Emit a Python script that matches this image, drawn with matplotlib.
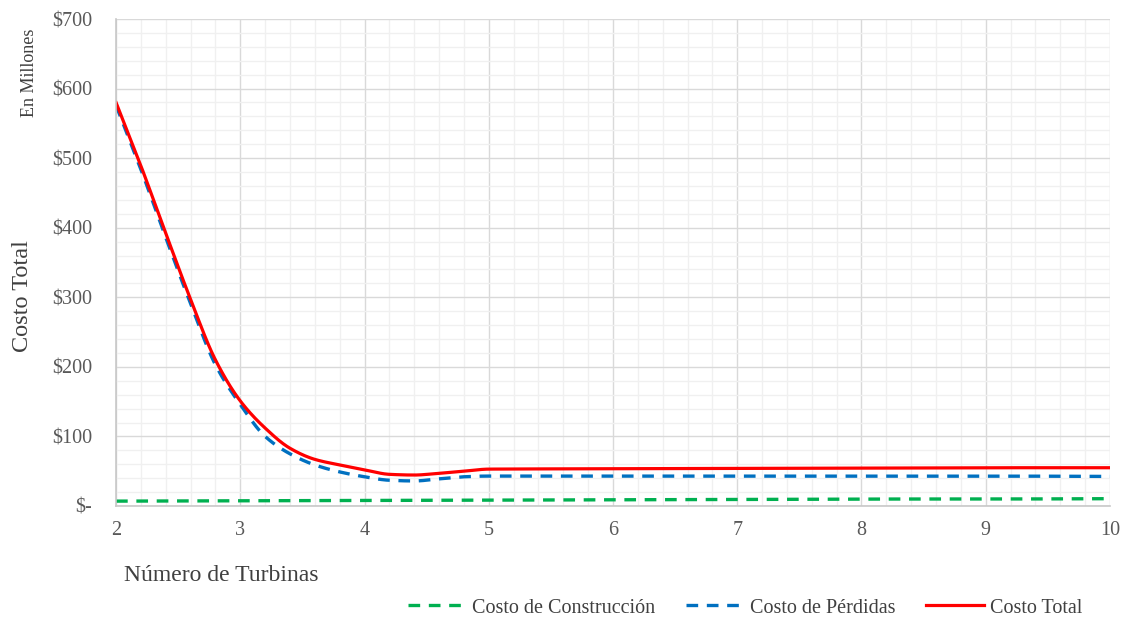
import numpy as np
import matplotlib.pyplot as plt
from matplotlib.ticker import MultipleLocator, FuncFormatter

plt.rcParams['font.family'] = ['Liberation Serif', 'DejaVu Serif']

# valores (millones)
x_fine = [2.0, 2.2, 2.4, 2.6, 2.8, 3.0, 3.2, 3.4, 3.6, 3.8, 4.0, 4.2, 4.4, 4.6, 4.8, 5.0,
          6, 7, 8, 9, 10]
costo_total = [580, 489, 392, 297, 210, 151, 112, 83, 67, 59, 52, 45.5, 44.5, 47, 50, 53,
               53.5, 54, 54.5, 55, 55]
costo_perdidas = [576, 484, 386, 291, 203, 146, 100, 75, 59, 49, 42, 37, 36, 39, 42, 43,
                  43, 43, 43, 43, 42.5]
x_int = [2, 3, 4, 5, 6, 7, 8, 9, 10]
costo_construccion = [7, 7.5, 8, 8.5, 9, 9.5, 10, 10, 10.5]


def smooth(x, y, n=25):
    # linea suavizada (hermite cubica tipo pchip)
    x = np.asarray(x, float)
    y = np.asarray(y, float)
    h = np.diff(x)
    d = np.diff(y) / h
    m = np.zeros_like(y)
    for k in range(1, len(x) - 1):
        if d[k - 1] * d[k] > 0:
            w1 = 2 * h[k] + h[k - 1]
            w2 = h[k] + 2 * h[k - 1]
            m[k] = (w1 + w2) / (w1 / d[k - 1] + w2 / d[k])
    m[0] = d[0]
    m[-1] = d[-1]
    xs, ys = [], []
    t = np.linspace(0, 1, n, endpoint=False)
    for i in range(len(x) - 1):
        hi = h[i]
        h00 = 2 * t**3 - 3 * t**2 + 1
        h10 = t**3 - 2 * t**2 + t
        h01 = -2 * t**3 + 3 * t**2
        h11 = t**3 - t**2
        xs.extend(x[i] + t * hi)
        ys.extend(h00 * y[i] + h10 * hi * m[i] + h01 * y[i + 1] + h11 * hi * m[i + 1])
    xs.append(x[-1])
    ys.append(y[-1])
    return np.array(xs), np.array(ys)


fig = plt.figure(figsize=(11.31, 6.21), dpi=100)
ax = fig.add_axes([0.1026, 0.1852, 0.8788, 0.7842])

sx, sy = smooth(x_int, costo_construccion)
ax.plot(sx, sy, color='#00b050', lw=2.4, dashes=(3.5, 2.6), label='Costo de Construcción')
sx, sy = smooth(x_fine, costo_perdidas)
ax.plot(sx, sy, color='#0070c0', lw=2.4, dashes=(3.5, 2.6), label='Costo de Pérdidas')
sx, sy = smooth(x_fine, costo_total)
ax.plot(sx, sy, color='#ff0000', lw=2.3, label='Costo Total')

ax.set_xlim(2, 10)
ax.set_ylim(0, 700)
ax.xaxis.set_major_locator(MultipleLocator(1))
ax.xaxis.set_minor_locator(MultipleLocator(0.2))
ax.yaxis.set_major_locator(MultipleLocator(100))
ax.yaxis.set_minor_locator(MultipleLocator(20))
ax.yaxis.set_major_formatter(FuncFormatter(lambda v, p: '$-' if v == 0 else f'${v:.0f}'))

ax.grid(which='major', color='#d9d9d9', lw=1.0)
ax.grid(which='minor', color='#f0f0f0', lw=1.0)
ax.set_axisbelow(True)
for s in ['top', 'right']:
    ax.spines[s].set_visible(False)
for s in ['left', 'bottom']:
    ax.spines[s].set_color('#c8c8c8')
    ax.spines[s].set_linewidth(1.2)

ax.tick_params(which='both', length=0, colors='#595959', labelsize=14.5)
ax.tick_params(axis='y', pad=17)
ax.tick_params(axis='x', pad=11)

fig.text(0.0195, 0.5225, 'Costo Total', rotation=90, fontsize=17.5, color='#404040',
         ha='center', va='center')
fig.text(0.0265, 0.883, 'En Millones', rotation=90, fontsize=13, color='#404040',
         ha='center', va='center')
fig.text(0.11, 0.074, 'Número de Turbinas', fontsize=17, color='#404040',
         ha='left', va='center')

leg = fig.legend(loc='center', bbox_to_anchor=(0.659, 0.021), ncol=3, frameon=False,
                 fontsize=14.5, handlelength=2.9, handletextpad=0.3, columnspacing=1.5)
for t in leg.get_texts():
    t.set_color('#404040')

fig.savefig('out.png', dpi=100)
